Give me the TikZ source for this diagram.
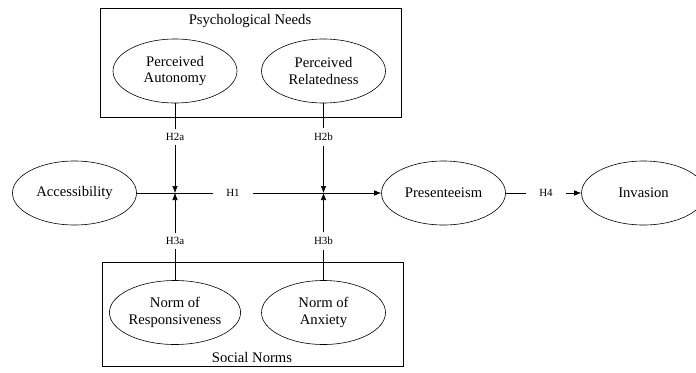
\documentclass[tikz,border=0pt]{standalone}
\usepackage{fontspec}
\setmainfont{Liberation Serif}
\usepackage{tikz}
\usetikzlibrary{arrows.meta,shapes.geometric}

\tikzset{
  construct/.style={ellipse,draw,line width=0.6bp,minimum width=124bp,minimum height=64bp,
    inner sep=0pt,align=center,font=\fontsize{14.7}{17}\selectfont},
  hyp/.style={inner xsep=13bp,inner ysep=4.5bp,font=\fontsize{11}{13}\selectfont},
  group/.style={font=\fontsize{14.7}{17}\selectfont},
  link/.style={line width=0.6bp},
  path/.style={line width=0.6bp,-{Latex[length=7bp,width=5.5bp]}}
}

\begin{document}
\begin{tikzpicture}[x=1bp,y=-1bp]

\useasboundingbox (0,0) rectangle (696,372);
\clip (0,0) rectangle (696,372);

% Group boxes
\draw[link] (100,8) rectangle (401,117);
\node[group] (psytitle) at (250,21) {Psychological Needs};
\draw[link] (102,262) rectangle (403,366);
\node[group] (soctitle) at (252,357) {Social Norms};

% Constructs
\node[construct] (auto) at (175,71) {Perceived\\Autonomy};
\node[construct] (rel) at (323.5,71) {Perceived\\Relatedness};
\node[construct] (acc) at (74.5,193) {Accessibility};
\node[construct] (pres) at (443.5,193) {Presenteeism};
\node[construct] (inv) at (643.5,193) {Invasion};
\node[construct] (resp) at (175,312.5) {Norm of\\Responsiveness};
\node[construct] (anx) at (323.5,312.5) {Norm of\\Anxiety};

% Hypothesis labels
\node[hyp] (h1) at (233,193) {H1};
\node[hyp] (h2a) at (175,137) {H2a};
\node[hyp] (h2b) at (323.5,137) {H2b};
\node[hyp] (h3a) at (175,241) {H3a};
\node[hyp] (h3b) at (323.5,241) {H3b};
\node[hyp] (h4) at (546,193) {H4};

% Moderation points
\coordinate (ma) at (175,193);
\coordinate (mb) at (323.5,193);

% Main paths
\draw[link] (acc) -- (h1);
\draw[path] (h1) -- (pres);
\draw[link] (pres) -- (h4);
\draw[path] (h4) -- (inv);

% Moderators
\draw[link] (auto) -- (h2a);
\draw[path] (h2a) -- (ma);
\draw[link] (rel) -- (h2b);
\draw[path] (h2b) -- (mb);
\draw[link] (resp) -- (h3a);
\draw[path] (h3a) -- (ma);
\draw[link] (anx) -- (h3b);
\draw[path] (h3b) -- (mb);

\end{tikzpicture}
\end{document}
